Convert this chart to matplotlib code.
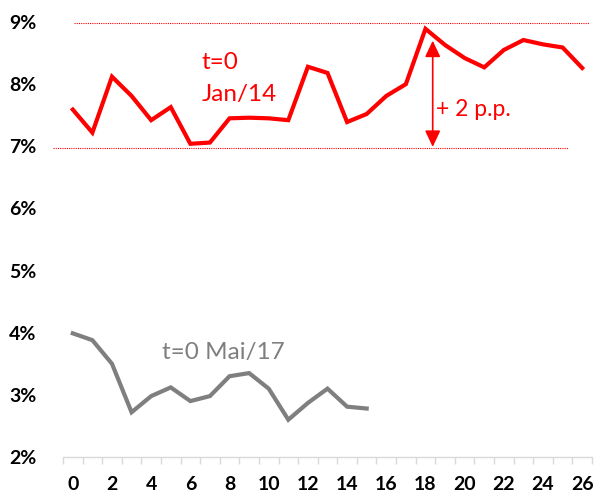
import matplotlib
matplotlib.use("Agg")
import matplotlib.pyplot as plt
from matplotlib.ticker import FuncFormatter, MultipleLocator

# Monthly rate (%) by months since t=0
months = list(range(27))
jan14 = [7.59, 7.22, 8.12, 7.81, 7.42, 7.63, 7.04, 7.06, 7.45, 7.46,
         7.45, 7.42, 8.28, 8.18, 7.39, 7.52, 7.81, 8.00, 8.89, 8.63,
         8.42, 8.27, 8.55, 8.71, 8.64, 8.59, 8.26]
mai17 = [3.99, 3.88, 3.50, 2.72, 2.98, 3.12, 2.90, 2.98, 3.30, 3.35,
         3.10, 2.60, 2.87, 3.10, 2.81, 2.78]

# Reference band and the gap annotated between them
band_low = 6.97
band_high = 8.98
gap_label = "+ 2 p.p."

RED = "#FF0000"
GRAY = "#7F7F7F"

plt.rcParams["font.family"] = ["Lato", "DejaVu Sans"]

fig = plt.figure(figsize=(6.0, 4.93), dpi=100)
ax = fig.add_axes([63 / 600, 1 - 457 / 493, (592 - 63) / 600, (457 - 22) / 493])

ax.plot(months, jan14, color=RED, lw=3.0, solid_joinstyle="miter", zorder=3)
ax.plot(months[:len(mai17)], mai17, color=GRAY, lw=3.0, solid_joinstyle="miter", zorder=3)

# Dotted band lines
ax.plot([0.05, 26.35], [band_high, band_high], color=RED, lw=0.8, ls=(0, (1, 1)),
        clip_on=False, zorder=2)
ax.plot([-1.02, 25.28], [band_low, band_low], color=RED, lw=0.8, ls=(0, (1, 1)),
        clip_on=False, zorder=2)

# Double-headed arrow for the gap
ax.annotate("", xy=(18.37, band_low + 0.02), xytext=(18.37, 8.70),
            arrowprops=dict(arrowstyle="<|-|>,head_length=0.55,head_width=0.26",
                            color=RED, lw=1.2, mutation_scale=18,
                            shrinkA=0, shrinkB=0))
ax.text(18.55, 7.49, gap_label, color=RED, fontsize=16.5, ha="left", va="baseline")

ax.text(6.59, 8.238, "t=0", color=RED, fontsize=17.5, ha="left", va="baseline")
ax.text(6.59, 7.733, "Jan/14", color=RED, fontsize=17.5, ha="left", va="baseline")
ax.text(4.55, 3.585, "t=0 Mai/17", color=GRAY, fontsize=17.5, ha="left", va="baseline")

ax.set_xlim(-0.5, 26.5)
ax.set_ylim(2, 9)
ax.yaxis.set_major_locator(MultipleLocator(1))
ax.yaxis.set_major_formatter(FuncFormatter(lambda v, p: f"{v:.0f}%"))
ax.set_xticks(months[::2])
ax.set_xticks([m - 0.5 for m in months] + [26.5], minor=True)

for s in ("top", "right", "left"):
    ax.spines[s].set_visible(False)
ax.spines["bottom"].set_color("#D9D9D9")
ax.spines["bottom"].set_linewidth(1.0)

ax.tick_params(axis="y", length=0, pad=19, labelsize=14)
ax.tick_params(axis="x", which="major", length=0, pad=14, labelsize=14)
ax.tick_params(axis="x", which="minor", length=5, color="#D9D9D9", width=1.0)
for lbl in ax.get_xticklabels() + ax.get_yticklabels():
    lbl.set_fontweight("bold")

fig.savefig("out.png", dpi=100)
